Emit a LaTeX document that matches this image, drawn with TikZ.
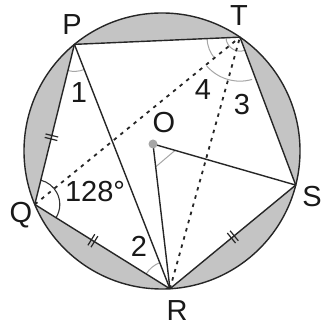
\documentclass[tikz,border=0pt]{standalone}
\usepackage{fontspec}
\setmainfont{Liberation Sans}
\usetikzlibrary{calc}
\newcommand\dbltick[3]{%
  \path (#1) -- (#2) coordinate[pos=#3] (tk);
  \draw[tick] ($(tk)!1.8pt!(#2)!6.5pt!90:(#2)$) -- ($(tk)!1.8pt!(#2)!6.5pt!-90:(#2)$);
  \draw[tick] ($(tk)!-1.8pt!(#2)!6.5pt!90:(#2)$) -- ($(tk)!-1.8pt!(#2)!6.5pt!-90:(#2)$);
}
\begin{document}
\begin{tikzpicture}[x=1pt,y=1pt,
  edge/.style={line width=1.4pt, draw=black!85, line join=round},
  dotline/.style={line width=1.8pt, draw=black!85, dash pattern=on 3.5pt off 5pt},
  anglemark/.style={line width=1pt, draw=black!35},
  darkmark/.style={line width=1.1pt, draw=black!80},
  lbl/.style={font=\fontsize{29}{29}\selectfont, text=black!90, inner sep=0pt},
  tick/.style={line width=1.2pt, draw=black!85}]
\useasboundingbox (0,0) rectangle (323,326);
\coordinate (C) at (162,175);
\coordinate (P) at ($(C)+(129.4:138)$);
\coordinate (T) at ($(C)+(55.6:138)$);
\coordinate (S) at ($(C)+(-14.3:138)$);
\coordinate (R) at ($(C)+(-86.7:138)$);
\coordinate (Q) at ($(C)+(202.8:138)$);
\coordinate (O) at (153,182);
% shaded segments
\fill[black!23] (C) circle (138);
\fill[white] (P) -- (T) -- (S) -- (R) -- (Q) -- cycle;
% angle marks
\draw[anglemark] ($(P)+(256:27)$) arc[start angle=256, end angle=291, radius=27];
\draw[anglemark] ($(R)+(111:28)$) arc[start angle=111, end angle=148, radius=28];
\draw[anglemark] ($(T)+(182:14)$) arc[start angle=182, end angle=290, radius=14];
\draw[anglemark] ($(T)+(182:33)$) arc[start angle=182, end angle=220, radius=33];
\draw[anglemark] ($(T)+(221:44)$) arc[start angle=221, end angle=286, radius=44];
\draw[anglemark] ($(O)+(-83.3:23)$) -- ($(O)+(-16.1:23)$);
\draw[darkmark] ($(Q)+(-32:25)$) arc[start angle=-32, end angle=76, radius=25];
% dotted lines
\draw[dotline] (Q) -- (T);
\draw[dotline] (R) -- (T);
% solid lines
\draw[edge] (C) circle (138);
\draw[edge] (P) -- (T) -- (S) -- (R) -- (Q) -- cycle;
\draw[edge] (P) -- (R);
\draw[edge] (O) -- (R);
\draw[edge] (O) -- (S);
\fill[black!35] (O) circle (4.5);
% ticks
\dbltick{P}{Q}{0.58}
\dbltick{Q}{R}{0.43}
\dbltick{S}{R}{0.5}
% labels
\node[lbl] (lP) at (72,301) {P};
\node[lbl] (lT) at (239,310) {T};
\node[lbl] (lS) at (312,129) {S};
\node[lbl] (lR) at (177,15) {R};
\node[lbl] (lQ) at (21,111) {Q};
\node[lbl] (lO) at (164,203) {O};
\node[lbl] (l1) at (79,233) {1};
\node[lbl] (l4) at (203,236) {4};
\node[lbl] (l3) at (242,221) {3};
\node[lbl] (l2) at (139,80) {2};
\node[lbl] (l128) at (95,134) {128°};
\end{tikzpicture}
\end{document}
